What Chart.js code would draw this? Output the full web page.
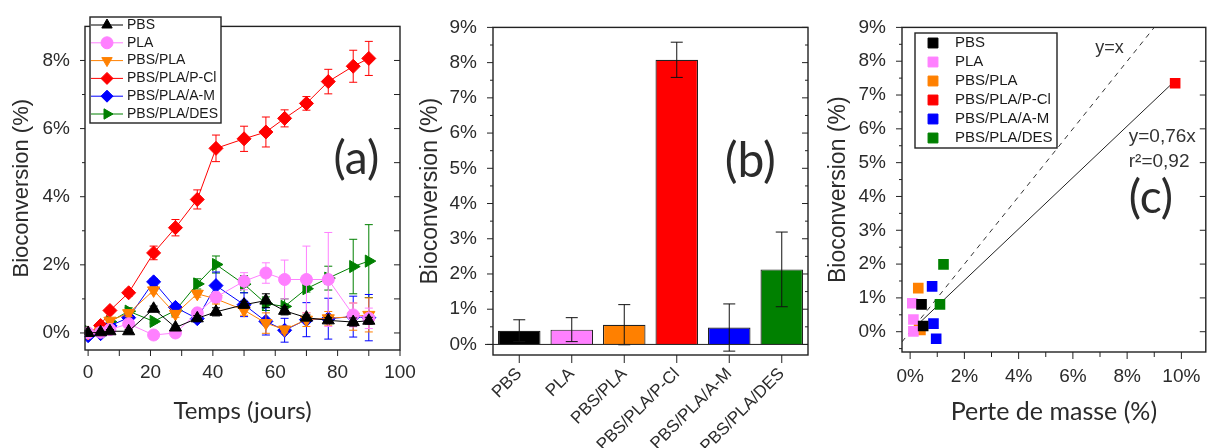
<!DOCTYPE html>
<html lang="fr">
  <head>
    <meta charset="UTF-8" />
    <title>Bioconversion</title>
    <script src="https://cdn.jsdelivr.net/npm/chart.js"></script>
    <style>
      html, body { margin: 0; background: #fff; overflow: hidden; width: 1213px; height: 448px; }
      canvas { position: absolute; top: 0; }
    </style>
  </head>
  <body>
    <canvas id="chart-a" width="430" height="448" style="left: 0"></canvas>
    <canvas id="chart-b" width="420" height="448" style="left: 410px"></canvas>
    <canvas id="chart-c" width="404" height="448" style="left: 810px"></canvas>
    <script>
      // --- données ---
      const materials = ["PBS", "PLA", "PBS/PLA", "PBS/PLA/P-Cl", "PBS/PLA/A-M", "PBS/PLA/DES"];
      const colors = ["#000000", "#ff80ff", "#ff8000", "#ff0000", "#0000ff", "#008000"];

      // (a) bioconversion en fonction du temps
      const days = [0, 4, 7, 13, 21, 28, 35, 41, 50, 57, 63, 70, 77, 85, 90];
      const bioPBS = [0, 0.02, 0.05, 0.05, 0.71, 0.16, 0.43, 0.62, 0.83, 0.95, 0.65, 0.45, 0.37, 0.32, 0.36];
      const bioPLA = [0, 0.02, 0.1, 0.27, -0.06, 0.0, 0.59, 1.05, 1.52, 1.76, 1.57, 1.57, 1.57, 0.53, 0.43];
      const bioPBSPLA = [0, 0.05, 0.36, 0.58, 1.25, 0.56, 1.15, 1.0, 0.67, 0.29, 0.1, 0.39, 0.43, 0.48, 0.53];
      const bioPCl = [0, 0.22, 0.66, 1.18, 2.35, 3.09, 3.92, 5.42, 5.7, 5.9, 6.3, 6.74, 7.38, 7.83, 8.06];
      const bioAM = [-0.08, -0.02, 0.21, 0.45, 1.5, 0.75, 0.42, 1.39, 0.83, 0.34, 0.08, 0.39, 0.42, 0.48, 0.45];
      const bioDES = [0.05, 0.12, 0.33, 0.64, 0.34, 0.66, 1.44, 2.01, 1.43, 0.86, 0.78, 1.3, 1.61, 1.95, 2.11];

      const errPBS = [0.03, 0.03, 0.05, 0.05, 0.08, 0.05, 0.08, 0.12, 0.1, 0.2, 0.12, 0.08, 0.08, 0.12, 0.1];
      const errPLA = [0.03, 0.03, 0.05, 0.1, 0.05, 0.05, 0.1, 0.15, 0.25, 0.3, 0.57, 0.98, 1.38, 0.35, 0.3];
      const errPBSPLA = [0.03, 0.03, 0.05, 0.1, 0.1, 0.1, 0.1, 0.15, 0.15, 0.3, 0.1, 0.2, 0.2, 0.4, 0.5];
      const errPCl = [0.03, 0.05, 0.08, 0.1, 0.2, 0.24, 0.28, 0.39, 0.37, 0.44, 0.25, 0.2, 0.36, 0.47, 0.5];
      const errAM = [0.03, 0.03, 0.05, 0.1, 0.1, 0.1, 0.1, 0.4, 0.35, 0.4, 0.35, 0.5, 0.6, 0.6, 0.68];
      const errDES = [0.03, 0.03, 0.05, 0.1, 0.05, 0.1, 0.15, 0.25, 0.25, 0.2, 0.22, 0.1, 0.35, 0.8, 1.07];

      // (b) bioconversion finale
      const finalBio = [0.39, 0.42, 0.56, 8.08, 0.48, 2.13];
      const finalErr = [0.31, 0.34, 0.57, 0.5, 0.67, 1.06];

      // (c) bioconversion vs perte de masse
      const massLoss = [[0.42, 0.48], [0.08, 0.12, 0.12], [0.3, 0.33, 0.38], [9.77], [0.81, 0.86, 0.96], [1.23, 1.1]];
      const massBio = [[0.81, 0.17], [0.84, 0.36, 0.01], [1.29, 0.1, 0.05], [7.35], [1.34, 0.24, -0.21], [1.99, 0.81]];
      const identityX = [-0.3, 9];
      const fitX = [0, 9.77];
      const fitSlope = 0.76;

      // graduations
      const aXTicks = [0, 20, 40, 60, 80, 100];
      const aYTicks = [0, 2, 4, 6, 8];
      const bYTicks = [0, 1, 2, 3, 4, 5, 6, 7, 8, 9];
      const cXTicks = [0, 2, 4, 6, 8, 10];
      const cYTicks = [0, 1, 2, 3, 4, 5, 6, 7, 8, 9];

      const timeSeries = [bioPBS, bioPLA, bioPBSPLA, bioPCl, bioAM, bioDES];
      const timeErrors = [errPBS, errPLA, errPBSPLA, errPCl, errAM, errDES];
      const aStyles = ["triangle", "circle", "triangle", "rectRot", "rectRot", "triangle"];
      const aRotation = [0, 0, 180, 0, 0, 90];

      // --- outils ---
      const range = (a, b, s) => {
        const out = [];
        for (let v = a; v <= b + 1e-9; v += s) out.push(+v.toFixed(2));
        return out;
      };
      const arial = "'Liberation Sans', Arial, sans-serif";
      const calibri = "Lato, 'Open Sans', sans-serif";
      const tickFont = { family: arial, size: 19 };
      const ink = "#2b2b2b";
      Chart.defaults.color = ink;

      // cadre + petites graduations façon Origin
      const framePlugin = {
        id: "frame",
        afterDatasetsDraw(chart, args, opts) {
          const { ctx, chartArea: a, scales } = chart;
          ctx.save();
          ctx.strokeStyle = "#222";
          ctx.lineWidth = 1;
          (opts.marks || []).forEach((m) => {
            const s = scales[m.axis];
            ctx.beginPath();
            m.values.forEach((v) => {
              const p = s.getPixelForValue(v);
              if (m.side === "left") { ctx.moveTo(a.left, p); ctx.lineTo(a.left - m.len, p); }
              else if (m.side === "right") { ctx.moveTo(a.right, p); ctx.lineTo(a.right - m.len, p); }
              else { ctx.moveTo(p, a.bottom); ctx.lineTo(p, a.bottom + m.len); }
            });
            ctx.stroke();
          });
          if (opts.zeroLine) {
            const p = scales.y.getPixelForValue(0);
            ctx.beginPath();
            ctx.moveTo(a.left - 8, p);
            ctx.lineTo(a.right, p);
            ctx.stroke();
          }
          ctx.lineWidth = 1.4;
          ctx.strokeRect(a.left, a.top, a.right - a.left, a.bottom - a.top);
          ctx.restore();
        },
      };

      // barres d'erreur
      const errorBarPlugin = {
        id: "errorBars",
        afterDatasetDraw(chart, args, opts) {
          const ds = chart.data.datasets[args.index];
          if (!ds.errors) return;
          const { ctx } = chart;
          const y = chart.scales.y;
          const cap = opts.cap || 4;
          ctx.save();
          ctx.strokeStyle = opts.color || ds.borderColor;
          ctx.lineWidth = 1;
          args.meta.data.forEach((el, i) => {
            const d = ds.data[i];
            const v = typeof d === "object" ? d.y : d;
            const e = ds.errors[i];
            const y1 = y.getPixelForValue(v - e);
            const y2 = y.getPixelForValue(v + e);
            ctx.beginPath();
            ctx.moveTo(el.x, y1); ctx.lineTo(el.x, y2);
            ctx.moveTo(el.x - cap, y1); ctx.lineTo(el.x + cap, y1);
            ctx.moveTo(el.x - cap, y2); ctx.lineTo(el.x + cap, y2);
            ctx.stroke();
          });
          ctx.restore();
        },
      };

      // textes libres
      const notesPlugin = {
        id: "notes",
        afterDraw(chart, args, opts) {
          const { ctx, scales } = chart;
          ctx.save();
          (opts.items || []).forEach((n) => {
            ctx.font = n.font;
            ctx.fillStyle = n.color || ink;
            ctx.textAlign = n.align || "center";
            ctx.textBaseline = "middle";
            ctx.fillText(n.text, scales.x.getPixelForValue(n.x), scales.y.getPixelForValue(n.y));
          });
          ctx.restore();
        },
      };

      // légende encadrée dans le graphe
      const boxLegendPlugin = {
        id: "boxLegend",
        afterDraw(chart, args, o) {
          if (!o.w) return;
          const { ctx } = chart;
          ctx.save();
          ctx.fillStyle = "#fff";
          ctx.fillRect(o.x, o.y, o.w, o.h);
          ctx.strokeStyle = "#222";
          ctx.lineWidth = 1.4;
          ctx.strokeRect(o.x, o.y, o.w, o.h);
          ctx.font = o.font;
          ctx.textBaseline = "middle";
          ctx.textAlign = "left";
          let row = 0;
          chart.data.datasets.forEach((ds) => {
            if (ds.inLegend === false) return;
            const cy = o.y + o.first + row * o.rowH;
            ctx.strokeStyle = ds.borderColor;
            ctx.fillStyle = ds.backgroundColor;
            ctx.lineWidth = 1;
            if (o.line) {
              ctx.beginPath();
              ctx.moveTo(o.x + o.lineFrom, cy);
              ctx.lineTo(o.x + o.lineTo, cy);
              ctx.stroke();
            }
            Chart.helpers.drawPoint(ctx, {
              pointStyle: ds.pointStyle, rotation: ds.pointRotation || 0,
              radius: o.radius, borderWidth: 1,
            }, o.x + o.markX, cy);
            ctx.fillStyle = "#1a1a1a";
            ctx.fillText(ds.label, o.x + o.textX, cy);
            row++;
          });
          ctx.restore();
        },
      };

      const plugins = [errorBarPlugin, framePlugin, notesPlugin, boxLegendPlugin];
      const noGrid = { display: false, drawTicks: false };
      const setTicks = (list) => (s) => { s.ticks = list.map((v) => ({ value: v })); };

      // --- (a) ---
      new Chart(document.getElementById("chart-a"), {
        type: "line",
        data: {
          datasets: materials.map((name, i) => ({
            label: name,
            data: days.map((d, j) => ({ x: d, y: timeSeries[i][j] })),
            errors: timeErrors[i],
            borderColor: colors[i],
            backgroundColor: colors[i],
            borderWidth: 1,
            pointStyle: aStyles[i],
            pointRotation: aRotation[i],
            pointRadius: aStyles[i] === "circle" ? 6 : 7,
            pointBorderWidth: 1,
            tension: 0,
          })),
        },
        options: {
          responsive: false,
          animation: false,
          layout: { padding: { top: 15, right: 30, left: 0, bottom: 0 } },
          plugins: {
            legend: { display: false },
            tooltip: { enabled: false },
            errorBars: { cap: 4 },
            frame: {
              marks: [
                { axis: "y", side: "left", values: range(0, 8, 2), len: 5 },
                { axis: "y", side: "left", values: range(1, 7, 2), len: 3 },
                { axis: "y", side: "right", values: range(0, 8, 1), len: 6 },
                { axis: "x", side: "bottom", values: range(0, 100, 10), len: 6 },
              ],
            },
            notes: { items: [{ text: "(a)", x: 86, y: 5.1, font: `46px ${calibri}` }] },
            boxLegend: {
              x: 90, y: 17, w: 131, h: 106, first: 8, rowH: 17.8,
              line: true, lineFrom: 1, lineTo: 33, markX: 17, textX: 37,
              radius: 6, font: `14px ${arial}`,
            },
          },
          scales: {
            x: {
              type: "linear", min: -1, max: 100,
              afterBuildTicks: setTicks(aXTicks),
              afterFit: (s) => { s.height = 98; },
              grid: noGrid, border: { display: false },
              ticks: { font: tickFont, padding: 11, maxRotation: 0 },
              title: {
                display: true, text: "Temps (jours)",
                font: { family: calibri, size: 24 },
                padding: { top: 0, bottom: 22 },
              },
            },
            y: {
              type: "linear", min: -0.5, max: 9,
              afterBuildTicks: setTicks(aYTicks),
              afterFit: (s) => { s.width = 85; },
              grid: noGrid, border: { display: false },
              ticks: { font: tickFont, padding: 15, callback: (v) => v + "%" },
              title: {
                display: true, text: "Bioconversion (%)",
                font: { family: arial, size: 22 },
                padding: { top: 9, bottom: 0 },
              },
            },
          },
        },
        plugins: plugins,
      });

      // --- (b) ---
      new Chart(document.getElementById("chart-b"), {
        type: "bar",
        data: {
          labels: materials,
          datasets: [{
            label: "Bioconversion",
            data: finalBio,
            errors: finalErr,
            backgroundColor: colors,
            borderColor: "#222",
            borderWidth: 1.2,
            barPercentage: 0.81,
            categoryPercentage: 1,
            inLegend: false,
          }],
        },
        options: {
          responsive: false,
          animation: false,
          layout: { padding: { top: 21, right: 22, left: 0, bottom: 0 } },
          plugins: {
            legend: { display: false },
            tooltip: { enabled: false },
            errorBars: { cap: 6, color: "#111" },
            frame: {
              zeroLine: true,
              marks: [
                { axis: "y", side: "left", values: range(0, 9, 1), len: 6 },
                { axis: "y", side: "left", values: range(0.5, 8.5, 1), len: 3 },
                { axis: "y", side: "right", values: range(0, 9, 1), len: 6 },
                { axis: "y", side: "right", values: range(0.5, 8.5, 1), len: 3 },
                { axis: "x", side: "bottom", values: range(0, 5, 1), len: 8 },
              ],
            },
            notes: { items: [{ text: "(b)", x: 4.4, y: 5.2, font: `48px ${calibri}` }] },
          },
          scales: {
            x: {
              afterFit: (s) => { s.height = 93; },
              grid: noGrid, border: { display: false },
              ticks: {
                font: { family: arial, size: 17 }, padding: 9,
                minRotation: 45, maxRotation: 45, autoSkip: false,
              },
            },
            y: {
              type: "linear", min: -0.3, max: 9,
              afterBuildTicks: setTicks(bYTicks),
              afterFit: (s) => { s.width = 83; },
              grid: noGrid, border: { display: false },
              ticks: { font: tickFont, padding: 16, callback: (v) => v + "%" },
              title: {
                display: true, text: "Bioconversion (%)",
                font: { family: arial, size: 23 },
                padding: { top: 7, bottom: 0 },
              },
            },
          },
        },
        plugins: plugins,
      });

      // --- (c) ---
      const cDatasets = materials.map((name, i) => ({
        label: name,
        data: massLoss[i].map((x, j) => ({ x: x, y: massBio[i][j] })),
        backgroundColor: colors[i],
        borderColor: colors[i],
        pointStyle: "rect",
        pointRadius: 7.5,
        pointBorderWidth: 0,
      }));
      cDatasets.push({
        label: "y=x",
        data: identityX.map((x) => ({ x: x, y: x })),
        showLine: true, borderColor: "#333", borderWidth: 1, borderDash: [5, 5],
        pointRadius: 0, inLegend: false, order: 10,
      });
      cDatasets.push({
        label: "fit",
        data: fitX.map((x) => ({ x: x, y: fitSlope * x })),
        showLine: true, borderColor: "#222", borderWidth: 1,
        pointRadius: 0, inLegend: false, order: 10,
      });

      new Chart(document.getElementById("chart-c"), {
        type: "scatter",
        data: { datasets: cDatasets },
        options: {
          responsive: false,
          animation: false,
          layout: { padding: { top: 17, right: 0, left: 0, bottom: 0 } },
          plugins: {
            legend: { display: false },
            tooltip: { enabled: false },
            frame: {
              marks: [
                { axis: "y", side: "left", values: range(0, 9, 1), len: 6 },
                { axis: "y", side: "left", values: range(-0.5, 8.5, 1), len: 3 },
                { axis: "y", side: "right", values: range(0, 8, 1), len: 6 },
                { axis: "x", side: "bottom", values: range(0, 10, 2), len: 7 },
                { axis: "x", side: "bottom", values: range(1, 9, 2), len: 5 },
              ],
            },
            notes: {
              items: [
                { text: "y=x", x: 7.35, y: 8.39, font: `18px ${arial}`, color: "#333" },
                { text: "y=0,76x", x: 8.06, y: 5.76, font: `19px ${arial}`, align: "left", color: "#333" },
                { text: "r²=0,92", x: 8.06, y: 5.04, font: `19px ${arial}`, align: "left", color: "#333" },
                { text: "(c)", x: 8.06, y: 3.95, font: `46px ${calibri}`, align: "left" },
              ],
            },
            boxLegend: {
              x: 105, y: 33, w: 142, h: 115, first: 10, rowH: 19,
              line: false, markX: 18, textX: 40,
              radius: 7, font: `15px ${arial}`,
            },
          },
          scales: {
            x: {
              type: "linear", min: -0.3, max: 10.9,
              afterBuildTicks: setTicks(cXTicks),
              afterFit: (s) => { s.height = 96; },
              grid: noGrid, border: { display: false },
              ticks: { font: tickFont, padding: 13, maxRotation: 0, callback: (v) => v + "%" },
              title: {
                display: true, text: "Perte de masse (%)",
                font: { family: calibri, size: 25 },
                padding: { top: 0, bottom: 21 },
              },
            },
            y: {
              type: "linear", min: -0.6, max: 9,
              afterBuildTicks: setTicks(cYTicks),
              afterFit: (s) => { s.width = 92; },
              grid: noGrid, border: { display: false },
              ticks: { font: tickFont, padding: 16, callback: (v) => v + "%" },
              title: {
                display: true, text: "Bioconversion (%)",
                font: { family: arial, size: 23 },
                padding: { top: 15, bottom: 0 },
              },
            },
          },
        },
        plugins: plugins,
      });
    </script>
  </body>
</html>
